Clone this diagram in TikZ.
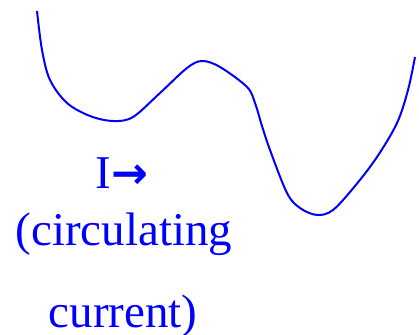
\documentclass[tikz,border=0pt]{standalone}
\usepackage{fontspec}
\setmainfont{Liberation Serif}
\newfontfamily\arrowfont{DejaVu Sans}[BoldFont={DejaVu Sans Bold}]
\usetikzlibrary{positioning}
\definecolor{wellblue}{RGB}{0,0,255}
\tikzset{
  wellcurve/.style={draw=wellblue, line width=2pt, line join=round},
  welllabel/.style={text=wellblue, font=\fontsize{47}{47}\selectfont, inner sep=0pt, anchor=base},
}
\begin{document}
\begin{tikzpicture}[x=1pt, y=-1pt]
  \useasboundingbox (0,0) rectangle (419,334);

  % Potential well
  \draw[wellcurve] plot[smooth, tension=0.55] coordinates {
    (37,11) (42,50) (50,80) (67,103) (90,116) (113,121) (133,117) (160,93)
    (187,68) (202,61) (220,67) (247,87) (255,103) (262,126) (270,150) (287,193)
    (300,208) (317,215) (333,210) (355,186) (377,157) (397,123) (408,90) (415,57)};

  % Labels
  \node[welllabel] (cur) at (122,188) {I{\arrowfont\bfseries\fontsize{44}{44}\selectfont →}};
  \node[welllabel] (circ) at (124,245) {(circulating};
  \node[welllabel] (curr) at (123,327) {current)};
\end{tikzpicture}
\end{document}
